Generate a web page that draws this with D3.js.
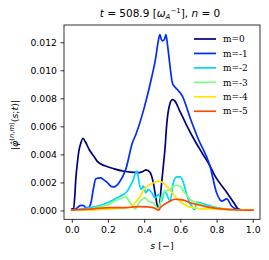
<!DOCTYPE html>
<html><head><meta charset="utf-8">
<script src="https://cdn.jsdelivr.net/npm/d3@7"></script>
<style>body{margin:0;background:#fff}svg{display:block}</style>
</head><body>
<svg id="c" width="269" height="260"></svg>
<script>
const seriesNames = ["m=0","m=-1","m=-2","m=-3","m=-4","m=-5"];
const seriesColors = ["#00007f","#002bff","#00d4ff","#7dff7a","#ffe500","#ff4800"];
const xTicks = [0.0,0.2,0.4,0.6,0.8,1.0];
const yTicks = [0.000,0.002,0.004,0.006,0.008,0.010,0.012];

const s0 = [0,0.01,0.016,0.022,0.031,0.04,0.05,0.062,0.075,0.096,0.12,0.141,0.18,0.234,0.289,0.326,0.37,0.395,0.41,0.433,0.45,0.466,0.478,0.485,0.493,0.506,0.515,0.525,0.54,0.556,0.57,0.593,0.63,0.676,0.72,0.764,0.792,0.85,0.902,0.92,0.95,1.0];
const v0 = [0.0001,0.00015,0.0009,0.0022,0.0034,0.0043,0.0048,0.00515,0.0049,0.00435,0.0039,0.0035,0.0032,0.00297,0.0028,0.00273,0.0027,0.0028,0.0029,0.0027,0.002,0.0008,0.00005,0.0004,0.0015,0.0032,0.0044,0.0062,0.0075,0.0079,0.0078,0.0072,0.0062,0.00506,0.0041,0.00316,0.00245,0.0014,0.00043,0.0001,0.00003,0.00002];

const s1 = [0,0.02,0.05,0.065,0.077,0.09,0.105,0.12,0.133,0.16,0.175,0.197,0.22,0.234,0.261,0.298,0.335,0.354,0.40,0.445,0.464,0.478,0.487,0.495,0.503,0.512,0.52,0.53,0.54,0.556,0.57,0.583,0.611,0.657,0.70,0.764,0.80,0.829,0.856,0.884,0.91,0.95,1.0];
const v1 = [0.00005,0.0001,0.00036,0.00035,0.0002,0.0002,0.0005,0.0016,0.00226,0.00233,0.0022,0.00198,0.0017,0.00169,0.00198,0.00292,0.00483,0.00542,0.00732,0.0097,0.0109,0.0121,0.01255,0.0122,0.0121,0.0122,0.01255,0.0117,0.0106,0.0091,0.0088,0.00863,0.00815,0.00649,0.00506,0.00316,0.00126,0.00066,0.00083,0.0003,0.0001,0.00003,0.00002];

const s2 = [0,0.05,0.1,0.14,0.197,0.25,0.28,0.307,0.322,0.34,0.35,0.36,0.366,0.372,0.383,0.396,0.409,0.423,0.442,0.46,0.478,0.497,0.512,0.525,0.543,0.561,0.58,0.598,0.617,0.635,0.648,0.663,0.678,0.69,0.72,0.76,0.8,0.85,0.9,1.0];
const v2 = [0.00003,0.0001,0.0002,0.0003,0.00055,0.0009,0.0011,0.00138,0.00173,0.0022,0.0026,0.0028,0.0025,0.00198,0.0015,0.00173,0.00126,0.0015,0.00126,0.0009,0.00114,0.00066,0.00138,0.00114,0.00066,0.00198,0.0024,0.0024,0.00198,0.00114,0.00066,0.0003,0.00005,0.0006,0.0005,0.00035,0.0002,0.0001,0.00005,0.00002];

const s3 = [0,0.1,0.15,0.2,0.234,0.26,0.28,0.294,0.305,0.316,0.33,0.35,0.365,0.377,0.39,0.405,0.42,0.435,0.45,0.465,0.478,0.49,0.506,0.525,0.543,0.56,0.577,0.6,0.617,0.635,0.653,0.7,0.746,0.8,0.837,0.9,1.0];
const v3 = [0.00002,0.0001,0.00025,0.0004,0.00066,0.0008,0.0009,0.001,0.0009,0.00066,0.00043,0.0001,0.0004,0.00066,0.0008,0.0009,0.0007,0.0006,0.00055,0.0003,0.0001,0.0006,0.00126,0.0014,0.0015,0.0017,0.0018,0.0017,0.00138,0.0011,0.00078,0.0005,0.0003,0.00018,0.00012,0.00005,0.00002];

const s4 = [0,0.2,0.25,0.3,0.32,0.35,0.377,0.405,0.433,0.455,0.478,0.506,0.534,0.571,0.608,0.64,0.672,0.72,0.8,0.9,1.0];
const v4 = [0.00002,0.0001,0.00015,0.0002,0.0002,0.00055,0.001,0.0016,0.00185,0.002,0.00209,0.00197,0.0016,0.001,0.00055,0.0003,0.0002,0.00012,0.0001,0.00005,0.00002];

const s5 = [0,0.1,0.21,0.3,0.34,0.377,0.42,0.45,0.465,0.478,0.49,0.497,0.52,0.543,0.571,0.6,0.635,0.653,0.69,0.746,0.8,0.837,0.9,1.0];
const v5 = [0.00003,0.0001,0.0002,0.0002,0.00026,0.00028,0.00025,0.0002,0.0001,0.00002,0.0002,0.0003,0.0005,0.00066,0.0008,0.00078,0.00066,0.00055,0.00043,0.00026,0.00015,0.0001,0.00005,0.00002];

const sList = [s0,s1,s2,s3,s4,s5];
const vList = [v0,v1,v2,v3,v4,v5];

const svg = d3.select("#c");
const L = 64, R = 260, T = 25, B = 219.3;
const x = d3.scaleLinear().domain([-0.043, 1.040]).range([L, R]);
const y = d3.scaleLinear().domain([-0.00063, 0.01323]).range([B, T]);

const tickFont = "DejaVu Sans, sans-serif";

// axes
const gx = svg.append("g").attr("transform", `translate(0,${B})`)
  .call(d3.axisBottom(x).tickValues(xTicks).tickFormat(d3.format(".1f")).tickSize(3.5).tickPadding(3.5));
const gy = svg.append("g").attr("transform", `translate(${L},0)`)
  .call(d3.axisLeft(y).tickValues(yTicks).tickFormat(d3.format(".3f")).tickSize(3.5).tickPadding(3.5));
[gx, gy].forEach(g => {
  g.select(".domain").remove();
  g.selectAll("line").attr("stroke", "#000").attr("stroke-width", 0.8);
  g.selectAll("text").attr("font-family", tickFont).attr("font-size", 9.3).attr("fill", "#000");
});

// lines
const line = d3.line().x(d => x(d[0])).y(d => y(d[1])).curve(d3.curveMonotoneX);
const plot = svg.append("g");
sList.forEach((s, i) => {
  const pts = s.map((sv, k) => [sv, vList[i][k]]);
  plot.append("path").datum(pts).attr("d", line)
    .attr("fill", "none").attr("stroke", seriesColors[i]).attr("stroke-width", 1.7)
    .attr("stroke-linejoin", "round").attr("stroke-linecap", "square");
});

// frame
svg.append("rect").attr("x", L).attr("y", T).attr("width", R - L).attr("height", B - T)
  .attr("fill", "none").attr("stroke", "#000").attr("stroke-width", 0.8);

// legend
const lg = svg.append("g");
seriesNames.forEach((n, i) => {
  const yy = 39 + i * 14.45;
  lg.append("line").attr("x1", 194).attr("x2", 216).attr("y1", yy).attr("y2", yy)
    .attr("stroke", seriesColors[i]).attr("stroke-width", 1.7);
  lg.append("text").attr("x", 223).attr("y", yy).attr("dy", "0.35em")
    .attr("font-family", "DejaVu Serif, serif").attr("font-size", 9).attr("fill", "#000").text(n);
});

// title
const title = svg.append("text").attr("x", 160).attr("y", 17).attr("text-anchor", "middle")
  .attr("font-family", tickFont).attr("font-size", 10.5).attr("fill", "#000");
title.append("tspan").attr("font-style", "italic").text("t");
title.append("tspan").text(" = 508.9 [");
title.append("tspan").attr("font-style", "italic").text("ω");
title.append("tspan").attr("font-style", "italic").attr("font-size", 7).attr("dy", 2.4).text("A");
title.append("tspan").attr("font-size", 7).attr("dx", 0).attr("dy", -6.8).text("−1");
title.append("tspan").attr("dy", 4.4).text("], ");
title.append("tspan").attr("font-style", "italic").text("n");
title.append("tspan").text(" = 0");

// x label
const xl = svg.append("text").attr("x", (L + R) / 2).attr("y", 249).attr("text-anchor", "middle")
  .attr("font-family", tickFont).attr("font-size", 9.5).attr("fill", "#000");
xl.append("tspan").attr("font-style", "italic").text("s");
xl.append("tspan").text(" [−]");

// y label
const yl = svg.append("text").attr("transform", "translate(18,125) rotate(-90)").attr("text-anchor", "middle")
  .attr("font-family", tickFont).attr("font-size", 9.5).attr("fill", "#000");
yl.append("tspan").text("|");
yl.append("tspan").attr("font-style", "italic").text("φ\u0302");
yl.append("tspan").attr("font-size", 6.8).attr("dy", -4).text("(");
yl.append("tspan").attr("font-size", 6.8).attr("font-style", "italic").text("n");
yl.append("tspan").attr("font-size", 6.8).text(",");
yl.append("tspan").attr("font-size", 6.8).attr("font-style", "italic").text("m");
yl.append("tspan").attr("font-size", 6.8).text(")");
yl.append("tspan").attr("dy", 4).text("(");
yl.append("tspan").attr("font-style", "italic").text("s");
yl.append("tspan").text(";");
yl.append("tspan").attr("font-style", "italic").text("t");
yl.append("tspan").text(")|");
</script>
</body></html>
